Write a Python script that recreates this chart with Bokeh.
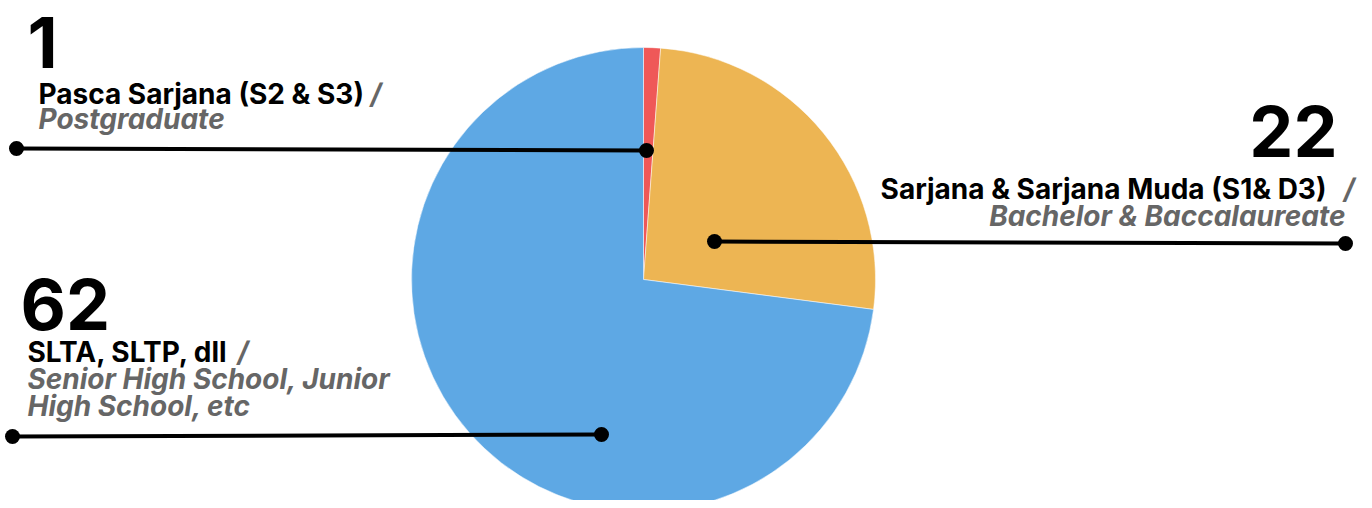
import math
from bokeh.plotting import figure
from bokeh.models import Range1d, ColumnDataSource
from bokeh.core.properties import value
from bokeh.embed import file_html
from bokeh.resources import INLINE

# ---- data ----
categories = ["Pasca Sarjana (S2 & S3)", "Sarjana & Sarjana Muda (S1& D3)", "SLTA, SLTP, dll"]
english = ["Postgraduate", "Bachelor & Baccalaureate", "Senior High School, Junior High School, etc"]
counts = [1, 22, 62]
colors = ["#EF5858", "#EDB553", "#5EA8E4"]

W, H = 1364, 500
p = figure(width=W, height=H, output_backend="svg", toolbar_location=None,
           x_range=Range1d(0, W), y_range=Range1d(508 - H, 508), min_border=0)
p.axis.visible = False
p.grid.visible = False
p.outline_line_color = None
p.background_fill_color = "white"
p.border_fill_color = "white"

def sy(y):  # screen y -> data y
    return 508 - y

# pie
cx, cy, r = 643, sy(279), 232
total = sum(counts)
starts, ends = [], []
acc = 0
for c in counts:
    a0 = math.pi / 2 - 2 * math.pi * acc / total
    acc += c
    a1 = math.pi / 2 - 2 * math.pi * acc / total
    starts.append(a0)
    ends.append(a1)
src = ColumnDataSource(dict(start=starts, end=ends, color=colors))
p.wedge(x=cx, y=cy, radius=r, start_angle="start", end_angle="end", direction="clock",
        fill_color="color", line_color="white", line_width=0.5, source=src)

# leader lines
lines = [((16, 148), (646, 150)), ((714, 241), (1345, 243)), ((12, 436), (601, 434))]
for (x0, y0), (x1, y1) in lines:
    p.line([x0, x1], [sy(y0), sy(y1)], line_color="black", line_width=4)
    p.scatter([x0, x1], [sy(y0), sy(y1)], size=15, fill_color="black", line_color=None)

F = value("Inter")
big = "70px"
lab = "28px"
grey = "#666666"
d = 5  # label baseline nudge

# 1
p.text(x=[27], y=[sy(67)], text=[str(counts[0])], text_font=F, text_font_size=big,
       text_font_style="bold", text_color="black")
p.text(x=[38], y=[sy(105 + d)], text=[categories[0]], text_font=F, text_font_size=lab,
       text_font_style="bold", text_color="black")
p.text(x=[370], y=[sy(105 + d)], text=["/"], text_font=F, text_font_size=lab,
       text_font_style="bold italic", text_color=grey)
p.text(x=[38], y=[sy(130 + d)], text=[english[0]], text_font=F, text_font_size=lab,
       text_font_style="bold italic", text_color=grey)

# 22
p.text(x=[1337], y=[sy(156)], text=[str(counts[1])], text_font=F, text_font_size=big,
       text_font_style="bold", text_color="black", text_align="right")
p.text(x=[1326], y=[sy(200 + d)], text=[categories[1]], text_font=F, text_font_size=lab,
       text_font_style="bold", text_color="black", text_align="right")
p.text(x=[1354], y=[sy(200 + d)], text=["/"], text_font=F, text_font_size=lab,
       text_font_style="bold italic", text_color=grey, text_align="right")
p.text(x=[1345], y=[sy(227 + d)], text=[english[1]], text_font=F, text_font_size=lab,
       text_font_style="bold italic", text_color=grey, text_align="right")

# 62
p.text(x=[20], y=[sy(329)], text=[str(counts[2])], text_font=F, text_font_size=big,
       text_font_style="bold", text_color="black")
p.text(x=[27], y=[sy(363 + d)], text=[categories[2]], text_font=F, text_font_size=lab,
       text_font_style="bold", text_color="black")
p.text(x=[237], y=[sy(363 + d)], text=["/"], text_font=F, text_font_size=lab,
       text_font_style="bold italic", text_color=grey)
p.text(x=[27, 27], y=[sy(390 + d), sy(417 + d)], text=["Senior High School, Junior", "High School, etc"],
       text_font=F, text_font_size=lab, text_font_style="bold italic", text_color=grey)

open("out.html", "w").write(file_html(p, INLINE))
